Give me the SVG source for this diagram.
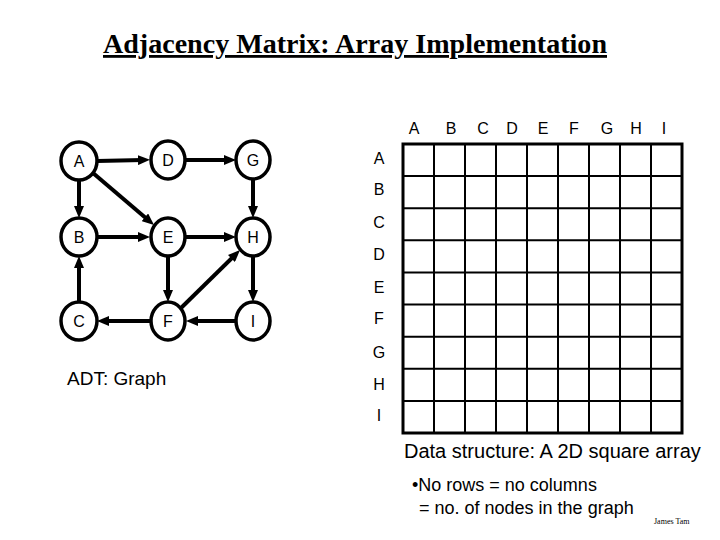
<svg xmlns="http://www.w3.org/2000/svg" width="720" height="540" viewBox="0 0 720 540">
<defs>
<style>
.node ellipse{fill:#fff;stroke:#000;stroke-width:3.5}
.node text{font-family:"Liberation Sans",Arial,sans-serif;font-size:16px;text-anchor:middle;fill:#000}
.edge{stroke:#000;stroke-width:4;fill:none;marker-end:url(#ah)}
.lbl{font-family:"Liberation Sans",Arial,sans-serif;font-size:16px;text-anchor:middle;fill:#000}
.grid line{stroke:#000;stroke-width:2}
.sans{font-family:"Liberation Sans",Arial,sans-serif;fill:#000}
</style>
<marker id="ah" viewBox="0 0 12 10" refX="5" refY="5" markerWidth="12" markerHeight="10" markerUnits="userSpaceOnUse" orient="auto">
<path d="M0,0 L12,5 L0,10 z" fill="#000"/>
</marker>
</defs>
<rect width="720" height="540" fill="#fff"/>
<text x="103" y="53" font-family="'Liberation Serif','Times New Roman',serif" font-weight="bold" font-size="28" textLength="504" lengthAdjust="spacingAndGlyphs" text-decoration="underline" fill="#000">Adjacency Matrix: Array Implementation</text>

<g id="connectors">
<line class="edge" x1="97" y1="161" x2="143" y2="160"/>
<line class="edge" x1="186" y1="160" x2="229" y2="160"/>
<line class="edge" x1="79" y1="180" x2="79" y2="211"/>
<line class="edge" x1="93" y1="173" x2="148.7" y2="220.5"/>
<line class="edge" x1="97" y1="237" x2="143" y2="237"/>
<line class="edge" x1="186" y1="237" x2="229" y2="237"/>
<line class="edge" x1="253" y1="179" x2="253" y2="211"/>
<line class="edge" x1="168" y1="256" x2="168" y2="295"/>
<line class="edge" x1="181" y1="308" x2="235" y2="255"/>
<line class="edge" x1="253" y1="256" x2="253" y2="295"/>
<line class="edge" x1="235" y1="321" x2="193" y2="321"/>
<line class="edge" x1="150" y1="321" x2="104" y2="321"/>
<line class="edge" x1="79" y1="302" x2="79" y2="263"/>
</g>

<g id="node-A" class="node"><ellipse cx="79" cy="161" rx="18" ry="19"/><text x="79" y="167">A</text></g>
<g id="node-D" class="node"><ellipse cx="168" cy="160" rx="17" ry="19"/><text x="168" y="166">D</text></g>
<g id="node-G" class="node"><ellipse cx="253" cy="160" rx="17" ry="19"/><text x="253" y="166">G</text></g>
<g id="node-B" class="node"><ellipse cx="79" cy="237" rx="18" ry="19"/><text x="79" y="243">B</text></g>
<g id="node-E" class="node"><ellipse cx="168" cy="237" rx="17" ry="19"/><text x="168" y="243">E</text></g>
<g id="node-H" class="node"><ellipse cx="253" cy="237" rx="17" ry="19"/><text x="253" y="243">H</text></g>
<g id="node-C" class="node"><ellipse cx="79" cy="321" rx="18" ry="19"/><text x="79" y="327">C</text></g>
<g id="node-F" class="node"><ellipse cx="168" cy="321" rx="17" ry="19"/><text x="168" y="327">F</text></g>
<g id="node-I" class="node"><ellipse cx="253" cy="321" rx="17" ry="19"/><text x="253" y="327">I</text></g>

<text class="sans" x="67" y="385" font-size="19">ADT: Graph</text>

<g id="matrix">
<g class="grid">
<line x1="434" y1="144" x2="434" y2="433"/>
<line x1="465" y1="144" x2="465" y2="433"/>
<line x1="496" y1="144" x2="496" y2="433"/>
<line x1="527" y1="144" x2="527" y2="433"/>
<line x1="558" y1="144" x2="558" y2="433"/>
<line x1="589" y1="144" x2="589" y2="433"/>
<line x1="620" y1="144" x2="620" y2="433"/>
<line x1="651" y1="144" x2="651" y2="433"/>
<line x1="403" y1="176.1" x2="682" y2="176.1"/>
<line x1="403" y1="208.2" x2="682" y2="208.2"/>
<line x1="403" y1="240.3" x2="682" y2="240.3"/>
<line x1="403" y1="272.4" x2="682" y2="272.4"/>
<line x1="403" y1="304.6" x2="682" y2="304.6"/>
<line x1="403" y1="336.7" x2="682" y2="336.7"/>
<line x1="403" y1="368.8" x2="682" y2="368.8"/>
<line x1="403" y1="400.9" x2="682" y2="400.9"/>
</g>
<rect x="403" y="144" width="279" height="289" fill="none" stroke="#000" stroke-width="3"/>
<text class="lbl" x="414" y="134">A</text>
<text class="lbl" x="451" y="134">B</text>
<text class="lbl" x="483" y="134">C</text>
<text class="lbl" x="512" y="134">D</text>
<text class="lbl" x="543" y="134">E</text>
<text class="lbl" x="574" y="134">F</text>
<text class="lbl" x="607" y="134">G</text>
<text class="lbl" x="636" y="134">H</text>
<text class="lbl" x="664" y="134">I</text>
<text class="lbl" x="379" y="164">A</text>
<text class="lbl" x="379" y="195">B</text>
<text class="lbl" x="379" y="228">C</text>
<text class="lbl" x="379" y="260">D</text>
<text class="lbl" x="379" y="293">E</text>
<text class="lbl" x="379" y="324">F</text>
<text class="lbl" x="379" y="358">G</text>
<text class="lbl" x="379" y="390">H</text>
<text class="lbl" x="379" y="421">I</text>
</g>

<text class="sans" x="404" y="458" font-size="20">Data structure: A 2D square array</text>
<text class="sans" x="412" y="491" font-size="18">•No rows = no columns</text>
<text class="sans" x="419" y="514" font-size="18">= no. of nodes in the graph</text>
<text x="654" y="524" font-family="'Liberation Serif','Times New Roman',serif" font-size="8" fill="#000">James Tam</text>
</svg>
